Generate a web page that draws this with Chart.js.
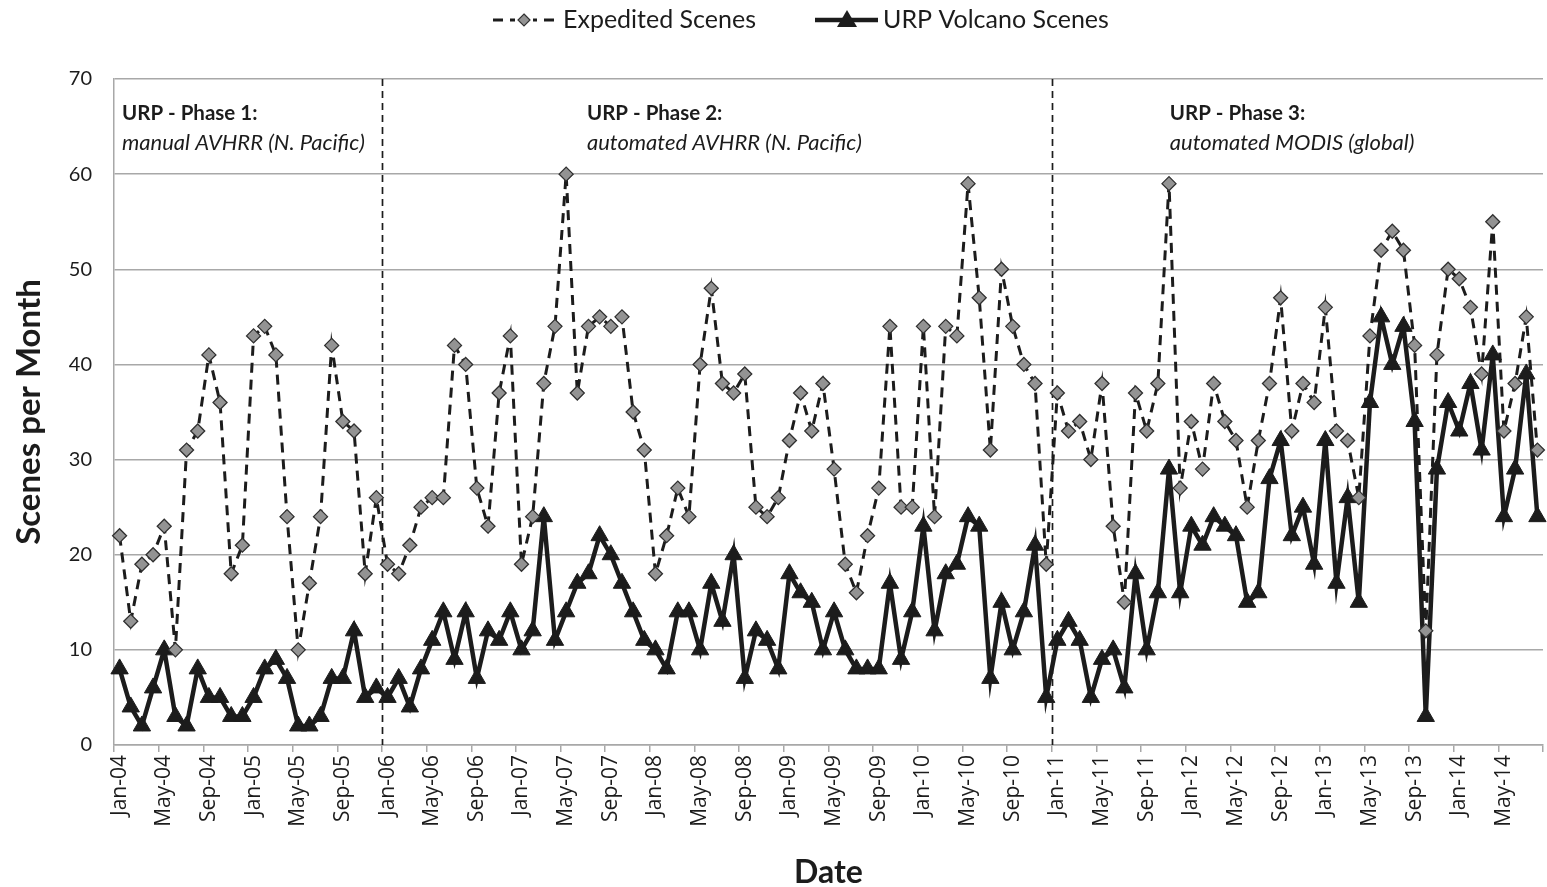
<!DOCTYPE html>
<html><head><meta charset="utf-8">
<script src="https://cdn.jsdelivr.net/npm/chart.js@4.4.1/dist/chart.umd.min.js"></script>
<style>html,body{margin:0;padding:0;background:#fff;}#wrap{width:1547px;height:887px;}</style>
</head><body><div id="wrap"><canvas id="c" width="1547" height="887"></canvas></div>
<script>
// ---- DATA ----
const categories = [
 'Jan-04','Feb-04','Mar-04','Apr-04','May-04','Jun-04','Jul-04','Aug-04','Sep-04','Oct-04','Nov-04','Dec-04',
 'Jan-05','Feb-05','Mar-05','Apr-05','May-05','Jun-05','Jul-05','Aug-05','Sep-05','Oct-05','Nov-05','Dec-05',
 'Jan-06','Feb-06','Mar-06','Apr-06','May-06','Jun-06','Jul-06','Aug-06','Sep-06','Oct-06','Nov-06','Dec-06',
 'Jan-07','Feb-07','Mar-07','Apr-07','May-07','Jun-07','Jul-07','Aug-07','Sep-07','Oct-07','Nov-07','Dec-07',
 'Jan-08','Feb-08','Mar-08','Apr-08','May-08','Jun-08','Jul-08','Aug-08','Sep-08','Oct-08','Nov-08','Dec-08',
 'Jan-09','Feb-09','Mar-09','Apr-09','May-09','Jun-09','Jul-09','Aug-09','Sep-09','Oct-09','Nov-09','Dec-09',
 'Jan-10','Feb-10','Mar-10','Apr-10','May-10','Jun-10','Jul-10','Aug-10','Sep-10','Oct-10','Nov-10','Dec-10',
 'Jan-11','Feb-11','Mar-11','Apr-11','May-11','Jun-11','Jul-11','Aug-11','Sep-11','Oct-11','Nov-11','Dec-11',
 'Jan-12','Feb-12','Mar-12','Apr-12','May-12','Jun-12','Jul-12','Aug-12','Sep-12','Oct-12','Nov-12','Dec-12',
 'Jan-13','Feb-13','Mar-13','Apr-13','May-13','Jun-13','Jul-13','Aug-13','Sep-13','Oct-13','Nov-13','Dec-13',
 'Jan-14','Feb-14','Mar-14','Apr-14','May-14','Jun-14','Jul-14','Aug-14'
];
const tickLabels = ['Jan-04','May-04','Sep-04','Jan-05','May-05','Sep-05','Jan-06','May-06','Sep-06','Jan-07','May-07','Sep-07',
 'Jan-08','May-08','Sep-08','Jan-09','May-09','Sep-09','Jan-10','May-10','Sep-10','Jan-11','May-11','Sep-11',
 'Jan-12','May-12','Sep-12','Jan-13','May-13','Sep-13','Jan-14','May-14'];
const expeditedScenes = [
 22,13,19,20,23,10,31,33,41,36,18,21,
 43,44,41,24,10,17,24,42,34,33,18,26,
 19,18,21,25,26,26,42,40,27,23,37,43,
 19,24,38,44,60,37,44,45,44,45,35,31,
 18,22,27,24,40,48,38,37,39,25,24,26,
 32,37,33,38,29,19,16,22,27,44,25,25,
 44,24,44,43,59,47,31,50,44,40,38,19,
 37,33,34,30,38,23,15,37,33,38,59,27,
 34,29,38,34,32,25,32,38,47,33,38,36,
 46,33,32,26,43,52,54,52,42,12,41,50,
 49,46,39,55,33,38,45,31
];
const urpVolcanoScenes = [
 8,4,2,6,10,3,2,8,5,5,3,3,
 5,8,9,7,2,2,3,7,7,12,5,6,
 5,7,4,8,11,14,9,14,7,12,11,14,
 10,12,24,11,14,17,18,22,20,17,14,11,
 10,8,14,14,10,17,13,20,7,12,11,8,
 18,16,15,10,14,10,8,8,8,17,9,14,
 23,12,18,19,24,23,7,15,10,14,21,5,
 11,13,11,5,9,10,6,18,10,16,29,16,
 23,21,24,23,22,15,16,28,32,22,25,19,
 32,17,26,15,36,45,40,44,34,3,29,36,
 33,38,31,41,24,29,39,24
];
const phaseStarts = ['Jan-04','Jan-06','Jan-11'];
const phaseTitles = ['URP - Phase 1:','URP - Phase 2:','URP - Phase 3:'];
const phaseSubtitles = ['manual AVHRR (N. Pacific)','automated AVHRR (N. Pacific)','automated MODIS (global)'];
const seriesNames = ['Expedited Scenes','URP Volcano Scenes'];

// ---- STYLE ----
const INK = '#1c1c1c';
const GRID = '#a8a8a8';
const DIAMOND = '#939393';
const FONT = 'Lato, "Open Sans", sans-serif';
const TICKFONT = '"Open Sans", sans-serif';

const phasePlugin = {
  id: 'phases',
  beforeDatasetsDraw(chart) {
    const g = chart.ctx, xs = chart.scales.x, ca = chart.chartArea;
    const half = (xs.getPixelForValue(1) - xs.getPixelForValue(0)) / 2;
    g.save();
    g.strokeStyle = INK; g.lineWidth = 1.7; g.setLineDash([7,5]);
    for (let i = 1; i < phaseStarts.length; i++) {
      const x = Math.round(xs.getPixelForValue(categories.indexOf(phaseStarts[i])) - half) + 0.5;
      g.beginPath(); g.moveTo(x, ca.top); g.lineTo(x, ca.bottom); g.stroke();
    }
    g.setLineDash([]);
    const offs = [8, 205, 118];
    g.fillStyle = INK; g.textBaseline = 'alphabetic'; g.textAlign = 'left';
    for (let i = 0; i < phaseStarts.length; i++) {
      const x = xs.getPixelForValue(categories.indexOf(phaseStarts[i])) - half + offs[i];
      g.font = 'bold 20.5px ' + FONT;
      g.fillText(phaseTitles[i], x, ca.top + 41);
      g.font = 'italic 22px ' + FONT;
      g.fillText(phaseSubtitles[i], x, ca.top + 71);
    }
    g.restore();
  },
  afterDraw(chart) {
    const g = chart.ctx;
    const y = 20;
    const items = [{x0: 493, tx: 563}, {x0: 815, tx: 883}];
    g.save();
    g.font = '25px ' + FONT; g.fillStyle = INK; g.textBaseline = 'middle'; g.textAlign = 'left';
    g.strokeStyle = INK; g.lineWidth = 3; g.setLineDash([10,7]);
    g.beginPath(); g.moveTo(items[0].x0, y); g.lineTo(items[0].x0 + 62, y); g.stroke();
    g.setLineDash([]);
    const cx1 = items[0].x0 + 31;
    g.clearRect(cx1 - 9, y - 9, 18, 18);
    g.fillStyle = DIAMOND; g.lineWidth = 1.2; g.strokeStyle = '#333';
    g.beginPath(); g.moveTo(cx1, y - 6); g.lineTo(cx1 + 6, y); g.lineTo(cx1, y + 6); g.lineTo(cx1 - 6, y); g.closePath(); g.fill(); g.stroke();
    g.fillStyle = INK;
    g.fillText(chart.data.datasets[0].label, items[0].tx, y);
    g.strokeStyle = INK; g.lineWidth = 4.5;
    g.beginPath(); g.moveTo(items[1].x0, y); g.lineTo(items[1].x0 + 63, y); g.stroke();
    const cx2 = items[1].x0 + 32;
    g.beginPath(); g.moveTo(cx2, y - 10); g.lineTo(cx2 + 10, y + 7); g.lineTo(cx2 - 10, y + 7); g.closePath(); g.fill();
    g.fillText(chart.data.datasets[1].label, items[1].tx, y);
    g.restore();
  }
};

new Chart(document.getElementById('c'), {
  type: 'line',
  data: {
    labels: categories,
    datasets: [
      { label: seriesNames[0], data: expeditedScenes, borderColor: INK, borderWidth: 3, borderDash: [10,7],
        pointStyle: 'rectRot', pointRadius: 7, pointBackgroundColor: DIAMOND, pointBorderColor: '#303030', pointBorderWidth: 1.3, tension: 0 },
      { label: seriesNames[1], data: urpVolcanoScenes, borderColor: INK, borderWidth: 4.5,
        pointStyle: 'triangle', pointRadius: 10, pointBackgroundColor: INK, pointBorderColor: INK, pointBorderWidth: 1, tension: 0 }
    ]
  },
  options: {
    responsive: false, animation: false, devicePixelRatio: 1,
    layout: { autoPadding: false, padding: { left: 0, right: 4, top: 79, bottom: -5 } },
    scales: {
      x: {
        type: 'category', offset: true,
        afterFit(s) { s.height = 147; s.paddingRight = 0; s.paddingLeft = 0; },
        grid: { offset: true, drawOnChartArea: false, drawTicks: true, tickLength: 7, lineWidth: 1.5,
                color: (c) => (c.index === undefined || c.index % 4 === 0) ? GRID : 'rgba(0,0,0,0)' },
        border: { color: GRID, width: 1.5 },
        ticks: { autoSkip: false, maxRotation: 90, minRotation: 90, padding: 3, color: INK,
                 font: { family: TICKFONT, size: 21 },
                 callback: (v, i) => tickLabels.includes(categories[i]) ? categories[i] : '' },
        title: { display: true, text: 'Date', color: INK, font: { family: FONT, size: 32, weight: 'bold' }, padding: { top: 0, bottom: 0 } }
      },
      y: {
        min: 0, max: 70,
        afterFit(s) { s.width = 114; },
        ticks: { stepSize: 10, padding: 22, color: INK, font: { family: FONT, size: 20 } },
        grid: { color: GRID, lineWidth: 1.5, drawTicks: false },
        border: { display: true, color: GRID, width: 1.5 },
        title: { display: true, text: 'Scenes per Month', color: INK, font: { family: FONT, size: 33, weight: 'bold' }, padding: { top: 10, bottom: 0 } }
      }
    },
    plugins: { legend: { display: false }, tooltip: { enabled: false } }
  },
  plugins: [phasePlugin]
});
</script></body></html>
